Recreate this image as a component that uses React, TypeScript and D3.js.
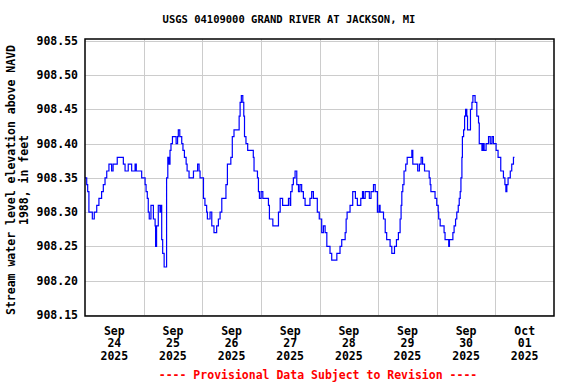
import React, { useEffect, useRef } from 'react'
import * as d3 from 'd3'

// hours since 2025-09-24 00:00 and the water level read at that time (ft, NAVD 1988)
const hours = [
  0, 0.7, 1.1, 1.6, 3, 3.8, 4.8, 5.7, 6.8, 7.5, 8.2, 8.9, 9.8, 10.9, 11.5, 13.2, 15, 15.7, 16.4, 17.7,
  19.1, 20.5, 21, 23.2, 24.6, 25, 25.5, 25.9, 26.3, 27, 28, 28.7, 28.9, 29.3, 30, 30.7, 31.1, 31.4, 31.8, 32.4,
  33.4, 33.9, 34.4, 34.8, 35.2, 35.8, 37.3, 37.9, 38.2, 38.8, 39.6, 40.1, 40.7, 41.4, 41.8, 42.6, 44.4, 46.1, 46.7, 47.1,
  48.5, 49.1, 49.8, 50.1, 51.2, 51.9, 52.8, 53.9, 54.6, 55.3, 56, 57.7, 58.3, 59.7, 60.3, 61, 63.1, 63.5, 64, 64.6,
  65, 65.3, 65.9, 66.6, 68.9, 69.2, 70.6, 71, 71.4, 72.1, 72.8, 75.1, 75.5, 76.9, 79.2, 79.9, 80.9, 83.3, 84, 84.2,
  84.8, 85.3, 86, 86.7, 87.4, 88, 88.7, 89.4, 90.1, 92.1, 92.8, 93.5, 95.1, 95.9, 96.9, 97.6, 98.3, 99, 100.3, 101,
  103.1, 104.4, 105.1, 106.5, 106.9, 107.3, 108.5, 109.6, 110.7, 111.5, 112.9, 113.6, 114, 114.7, 116.4, 117.1, 118.1, 118.8, 119.7, 120.4,
  120.8, 122.2, 122.9, 123.5, 124.9, 125.6, 126.7, 127.5, 128.3, 129, 129.4, 129.7, 130.1, 130.6, 131.3, 131.9, 133.8, 134.2, 136.2, 136.9,
  137.6, 138.2, 139, 140.9, 141.3, 141.6, 143.3, 144, 144.6, 144.8, 145.4, 147, 147.4, 148.9, 149.2, 150.6, 151.1, 151.7, 152.2, 152.8,
  153.2, 153.6, 153.9, 154.3, 154.5, 155, 155.4, 155.8, 156.3, 156.6, 157.8, 158.4, 158.8, 159.7, 160.4, 161.1, 161.4, 162.5, 162.9, 163.4,
  164.2, 165.2, 165.9, 166.6, 167.2, 168.3, 169.1, 170.2, 171.3, 171.9, 172.3, 172.7, 173.2, 174.1, 174.7, 175.4, 175.8
]

const elevation = [
  908.35, 908.34, 908.33, 908.30, 908.29, 908.30, 908.31, 908.32, 908.33, 908.34, 908.35, 908.36, 908.37, 908.36, 908.37, 908.38, 908.38, 908.37, 908.36, 908.37,
  908.36, 908.37, 908.36, 908.35, 908.34, 908.33, 908.32, 908.30, 908.29, 908.31, 908.29, 908.28, 908.25, 908.28, 908.31, 908.30, 908.31, 908.26, 908.24, 908.22,
  908.35, 908.38, 908.37, 908.39, 908.40, 908.41, 908.40, 908.41, 908.42, 908.41, 908.40, 908.39, 908.38, 908.37, 908.36, 908.35, 908.36, 908.37, 908.36, 908.35,
  908.32, 908.31, 908.30, 908.29, 908.30, 908.28, 908.27, 908.28, 908.29, 908.30, 908.32, 908.34, 908.37, 908.38, 908.41, 908.42, 908.44, 908.46, 908.47, 908.46,
  908.44, 908.41, 908.40, 908.39, 908.38, 908.36, 908.35, 908.33, 908.32, 908.33, 908.32, 908.31, 908.29, 908.28, 908.30, 908.32, 908.31, 908.32, 908.31, 908.33,
  908.34, 908.35, 908.36, 908.34, 908.33, 908.34, 908.33, 908.32, 908.31, 908.32, 908.33, 908.32, 908.30, 908.29, 908.27, 908.28, 908.27, 908.25, 908.24, 908.23,
  908.24, 908.25, 908.26, 908.27, 908.29, 908.30, 908.31, 908.33, 908.32, 908.31, 908.32, 908.33, 908.32, 908.33, 908.32, 908.33, 908.34, 908.33, 908.30, 908.31,
  908.30, 908.29, 908.27, 908.26, 908.25, 908.24, 908.25, 908.26, 908.27, 908.29, 908.31, 908.33, 908.34, 908.36, 908.37, 908.38, 908.39, 908.37, 908.36, 908.37,
  908.38, 908.37, 908.36, 908.35, 908.34, 908.33, 908.32, 908.31, 908.30, 908.29, 908.28, 908.27, 908.26, 908.25, 908.26, 908.27, 908.28, 908.29, 908.30, 908.31,
  908.32, 908.33, 908.35, 908.38, 908.41, 908.42, 908.44, 908.45, 908.44, 908.42, 908.45, 908.46, 908.47, 908.46, 908.44, 908.43, 908.40, 908.39, 908.40, 908.39,
  908.40, 908.41, 908.40, 908.41, 908.40, 908.39, 908.38, 908.36, 908.35, 908.34, 908.33, 908.34, 908.35, 908.36, 908.37, 908.38, 908.38
]

const yTicks = [908.15, 908.20, 908.25, 908.30, 908.35, 908.40, 908.45, 908.50, 908.55]

const title = 'USGS 04109000 GRAND RIVER AT JACKSON, MI'
const yTitle = ['Stream water level elevation above NAVD', '1988, in feet']
const footer = '---- Provisional Data Subject to Revision ----'

const start = new Date(Date.UTC(2025, 8, 24))
const end = new Date(Date.UTC(2025, 9, 2))

const Chart = () => {
  const ref = useRef(null)
  const width = 576
  const height = 384
  const plot = { left: 85, right: 554, top: 39, bottom: 316 }
  const font = '"DejaVu Sans Mono", monospace'

  useEffect(() => {
    const svg = d3.select(ref.current)
    svg.selectAll('*').remove()

    const x = d3.scaleUtc().domain([start, end]).range([plot.left, plot.right])
    const y = d3.scaleLinear().domain([908.15, 908.55]).range([315, 40.7])

    const data = hours.map((h, i) => ({ date: new Date(+start + h * 3600e3), value: elevation[i] }))

    svg.append('rect')
      .attr('width', width).attr('height', height).attr('fill', 'white')

    // grid
    svg.append('g')
      .selectAll('line')
      .data(yTicks)
      .join('line')
      .attr('x1', plot.left).attr('x2', plot.right)
      .attr('y1', d => Math.round(y(d)) + 0.5).attr('y2', d => Math.round(y(d)) + 0.5)
      .attr('stroke', '#cccccc')

    const days = x.ticks(d3.utcDay.every(1))
    svg.append('g')
      .selectAll('line')
      .data(days.slice(1, -1))
      .join('line')
      .attr('x1', d => Math.round(x(d)) + 0.5).attr('x2', d => Math.round(x(d)) + 0.5)
      .attr('y1', plot.top).attr('y2', plot.bottom)
      .attr('stroke', '#cccccc')

    const line = d3.line()
      .curve(d3.curveStepAfter)
      .x(d => x(d.date))
      .y(d => y(d.value))

    svg.append('path')
      .datum(data)
      .attr('fill', 'none')
      .attr('stroke', '#0000ff')
      .attr('stroke-width', 1.2)
      .attr('d', line)

    svg.append('rect')
      .attr('x', plot.left).attr('y', plot.top)
      .attr('width', plot.right - plot.left).attr('height', plot.bottom - plot.top)
      .attr('fill', 'none')
      .attr('stroke', 'black')
      .attr('stroke-width', 1.5)

    // y tick labels
    svg.append('g')
      .selectAll('text')
      .data(yTicks)
      .join('text')
      .attr('x', 78)
      .attr('y', d => y(d))
      .attr('dy', '0.35em')
      .attr('text-anchor', 'end')
      .attr('font-family', font)
      .attr('font-weight', 'bold')
      .attr('font-size', 11.5)
      .text(d => d.toFixed(2))

    // x labels at noon of each day
    const fmt = [d3.utcFormat('%b'), d3.utcFormat('%d'), d3.utcFormat('%Y')]
    const labels = svg.append('g')
      .selectAll('text')
      .data(days.slice(0, -1))
      .join('text')
      .attr('text-anchor', 'middle')
      .attr('font-family', font)
      .attr('font-weight', 'bold')
      .attr('font-size', 11.5)
    fmt.forEach((f, i) => {
      labels.append('tspan')
        .attr('x', d => x(d3.utcHour.offset(d, 12)))
        .attr('y', 334.5 + i * 12.5)
        .text(d => f(d))
    })

    svg.append('text')
      .attr('x', 289).attr('y', 23)
      .attr('text-anchor', 'middle')
      .attr('font-family', font)
      .attr('font-weight', 'bold')
      .attr('font-size', 10.5)
      .text(title)

    yTitle.forEach((t, i) => {
      svg.append('text')
        .attr('transform', `translate(${15 + i * 13},180) rotate(-90)`)
        .attr('text-anchor', 'middle')
        .attr('font-family', font)
        .attr('font-weight', 'bold')
        .attr('font-size', 11.5)
        .text(t)
    })

    svg.append('text')
      .attr('x', 318).attr('y', 379)
      .attr('text-anchor', 'middle')
      .attr('font-family', font)
      .attr('font-weight', 'bold')
      .attr('font-size', 11.5)
      .attr('fill', '#ff0000')
      .text(footer)
  }, [])

  return (
    <svg width={width} height={height} ref={ref}
      style={{ position: 'absolute', left: 0, top: 0, display: 'block' }} />
  )
}

export default function App () {
  return <Chart />
}
